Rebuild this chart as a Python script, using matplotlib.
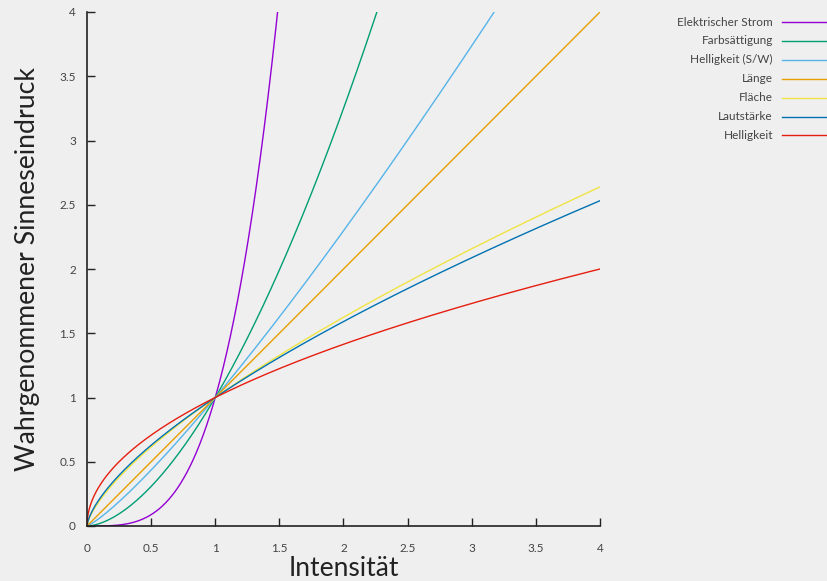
import numpy as np
import matplotlib
matplotlib.use("Agg")
import matplotlib.pyplot as plt
from matplotlib.lines import Line2D

# Stevens' power law exponents (value at x=4 / where they leave y=4)
labels = ["Elektrischer Strom", "Farbsättigung", "Helligkeit (S/W)", "Länge",
          "Fläche", "Lautstärke", "Helligkeit"]
exponents = [3.5, 1.7, 1.2, 1.0, 0.7, 0.67, 0.5]
colors = ["#9400d3", "#009e73", "#56b4e9", "#e69f00", "#f0e442", "#0072b2", "#e51e10"]

xticks = [0, 0.5, 1, 1.5, 2, 2.5, 3, 3.5, 4]
yticks = [0, 0.5, 1, 1.5, 2, 2.5, 3, 3.5, 4]

plt.rcParams['font.family'] = ['Lato', 'DejaVu Sans']
textc = "#444444"

fig = plt.figure(figsize=(8.28, 5.81), dpi=100)
fig.patch.set_facecolor("#efefef")
ax = fig.add_axes([87/828, 55/581, 513/828, 514/581])
ax.set_facecolor("none")

x = np.linspace(0, 4, 2000)
for lab, a, c in zip(labels, exponents, colors):
    ax.plot(x, x**a, color=c, lw=1.0)

ax.set_xlim(0, 4)
ax.set_ylim(0, 4)
ax.set_xticks(xticks)
ax.set_yticks(yticks)
ax.set_xticklabels([f"{v:g}" for v in xticks])
ax.set_yticklabels([f"{v:g}" for v in yticks])
for s in ["top", "right"]:
    ax.spines[s].set_visible(False)
for s in ["left", "bottom"]:
    ax.spines[s].set_color("#222222")
    ax.spines[s].set_linewidth(1.2)
ax.tick_params(direction="in", length=6, width=1, color="#222222",
               labelsize=8.5, labelcolor=textc)
ax.tick_params(axis="x", pad=12)
ax.tick_params(axis="y", pad=8)

ax.set_xlabel("Intensität", fontsize=19, color="#222222", labelpad=1.5)
ax.set_ylabel("Wahrgenommener Sinneseindruck", fontsize=19.2, color="#222222", labelpad=14)

# legend, drawn by hand to the right of the plot
for i, (lab, c) in enumerate(zip(labels, colors)):
    yy = 1 - (22 + i * 18.9) / 581
    fig.text(773/828, yy, lab, ha="right", va="center", fontsize=8.5, color=textc)
    fig.add_artist(Line2D([782/828, 826/828], [yy, yy], color=c, lw=1.0))

fig.savefig("out.png", dpi=100, facecolor=fig.get_facecolor())
